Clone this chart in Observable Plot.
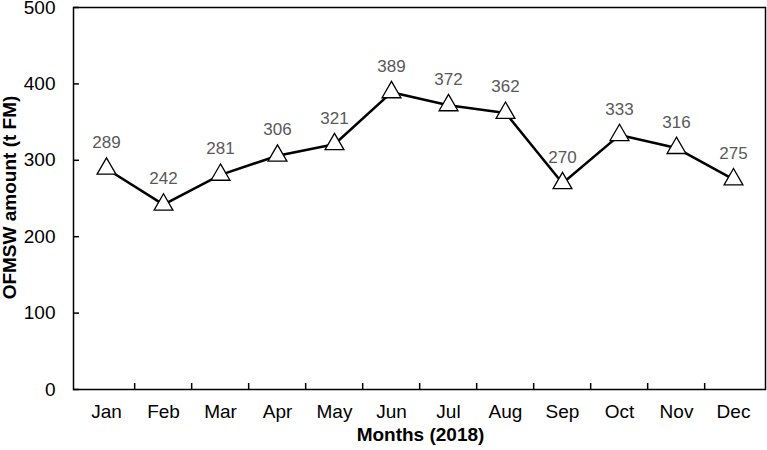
<!DOCTYPE html>
<html><head><meta charset="utf-8">
<script src="https://cdn.jsdelivr.net/npm/d3@7"></script>
<script src="https://cdn.jsdelivr.net/npm/@observablehq/plot@0.6"></script>
<style>body{margin:0;background:#fff;font-family:"Liberation Sans",Arial,sans-serif}</style>
</head><body><div id="chart"></div>
<script>
const months = ["Jan","Feb","Mar","Apr","May","Jun","Jul","Aug","Sep","Oct","Nov","Dec"];
const amounts = [289,242,281,306,321,389,372,362,270,333,316,275];
const yTicks = [0,100,200,300,400,500];
const data = months.map((m,i)=>({month:m, value:amounts[i]}));
const W = 767, H = 450, mL = 73, mR = 2, mT = 7, mB = 61;
const step = (W - mL - mR) / months.length;
const chart = Plot.plot({
  width: W, height: H, marginLeft: mL, marginRight: mR, marginTop: mT, marginBottom: mB,
  style: {fontFamily: '"Liberation Sans",Arial,sans-serif', fontSize: "18px", color: "#000", background: "#fff", overflow: "visible"},
  x: {type: "point", domain: months, padding: 0.5, label: null},
  y: {domain: [0,500], label: null},
  marks: [
    Plot.frame({stroke: "#000", strokeWidth: 1.5}),
    Plot.ruleX(months.slice(1), {x: d=>d, dx: -step/2, y1: 0, y2: 500*6/382, stroke: "#000", strokeWidth: 1.5}),
    Plot.axisY({ticks: yTicks, tickSize: -6, tickPadding: 24, fontSize: 19, strokeWidth: 1.5, label: null}),
    Plot.axisX({tickSize: 0, tickPadding: 15, fontSize: 19, label: null}),
    Plot.line(data, {x: "month", y: "value", stroke: "#000", strokeWidth: 2.5}),
    Plot.dot(data, {x: "month", y: "value", symbol: "triangle", r: 7, fill: "#fff", stroke: "#000", strokeWidth: 1.3}),
    Plot.text(data, {x: "month", y: "value", text: d=>String(d.value), dy: -26, fill: "#595959", fontSize: 17}),
    Plot.text(["Months (2018)"], {frameAnchor: "bottom", dx: 1, dy: 51, fontWeight: "bold", fontSize: 19, fill: "#000"}),
    Plot.text(["OFMSW amount (t FM)"], {frameAnchor: "left", textAnchor: "middle", dx: -64, dy: -1, rotate: -90, fontWeight: "bold", fontSize: 19, fill: "#000"})
  ]
});
document.getElementById("chart").append(chart);
</script></body></html>
